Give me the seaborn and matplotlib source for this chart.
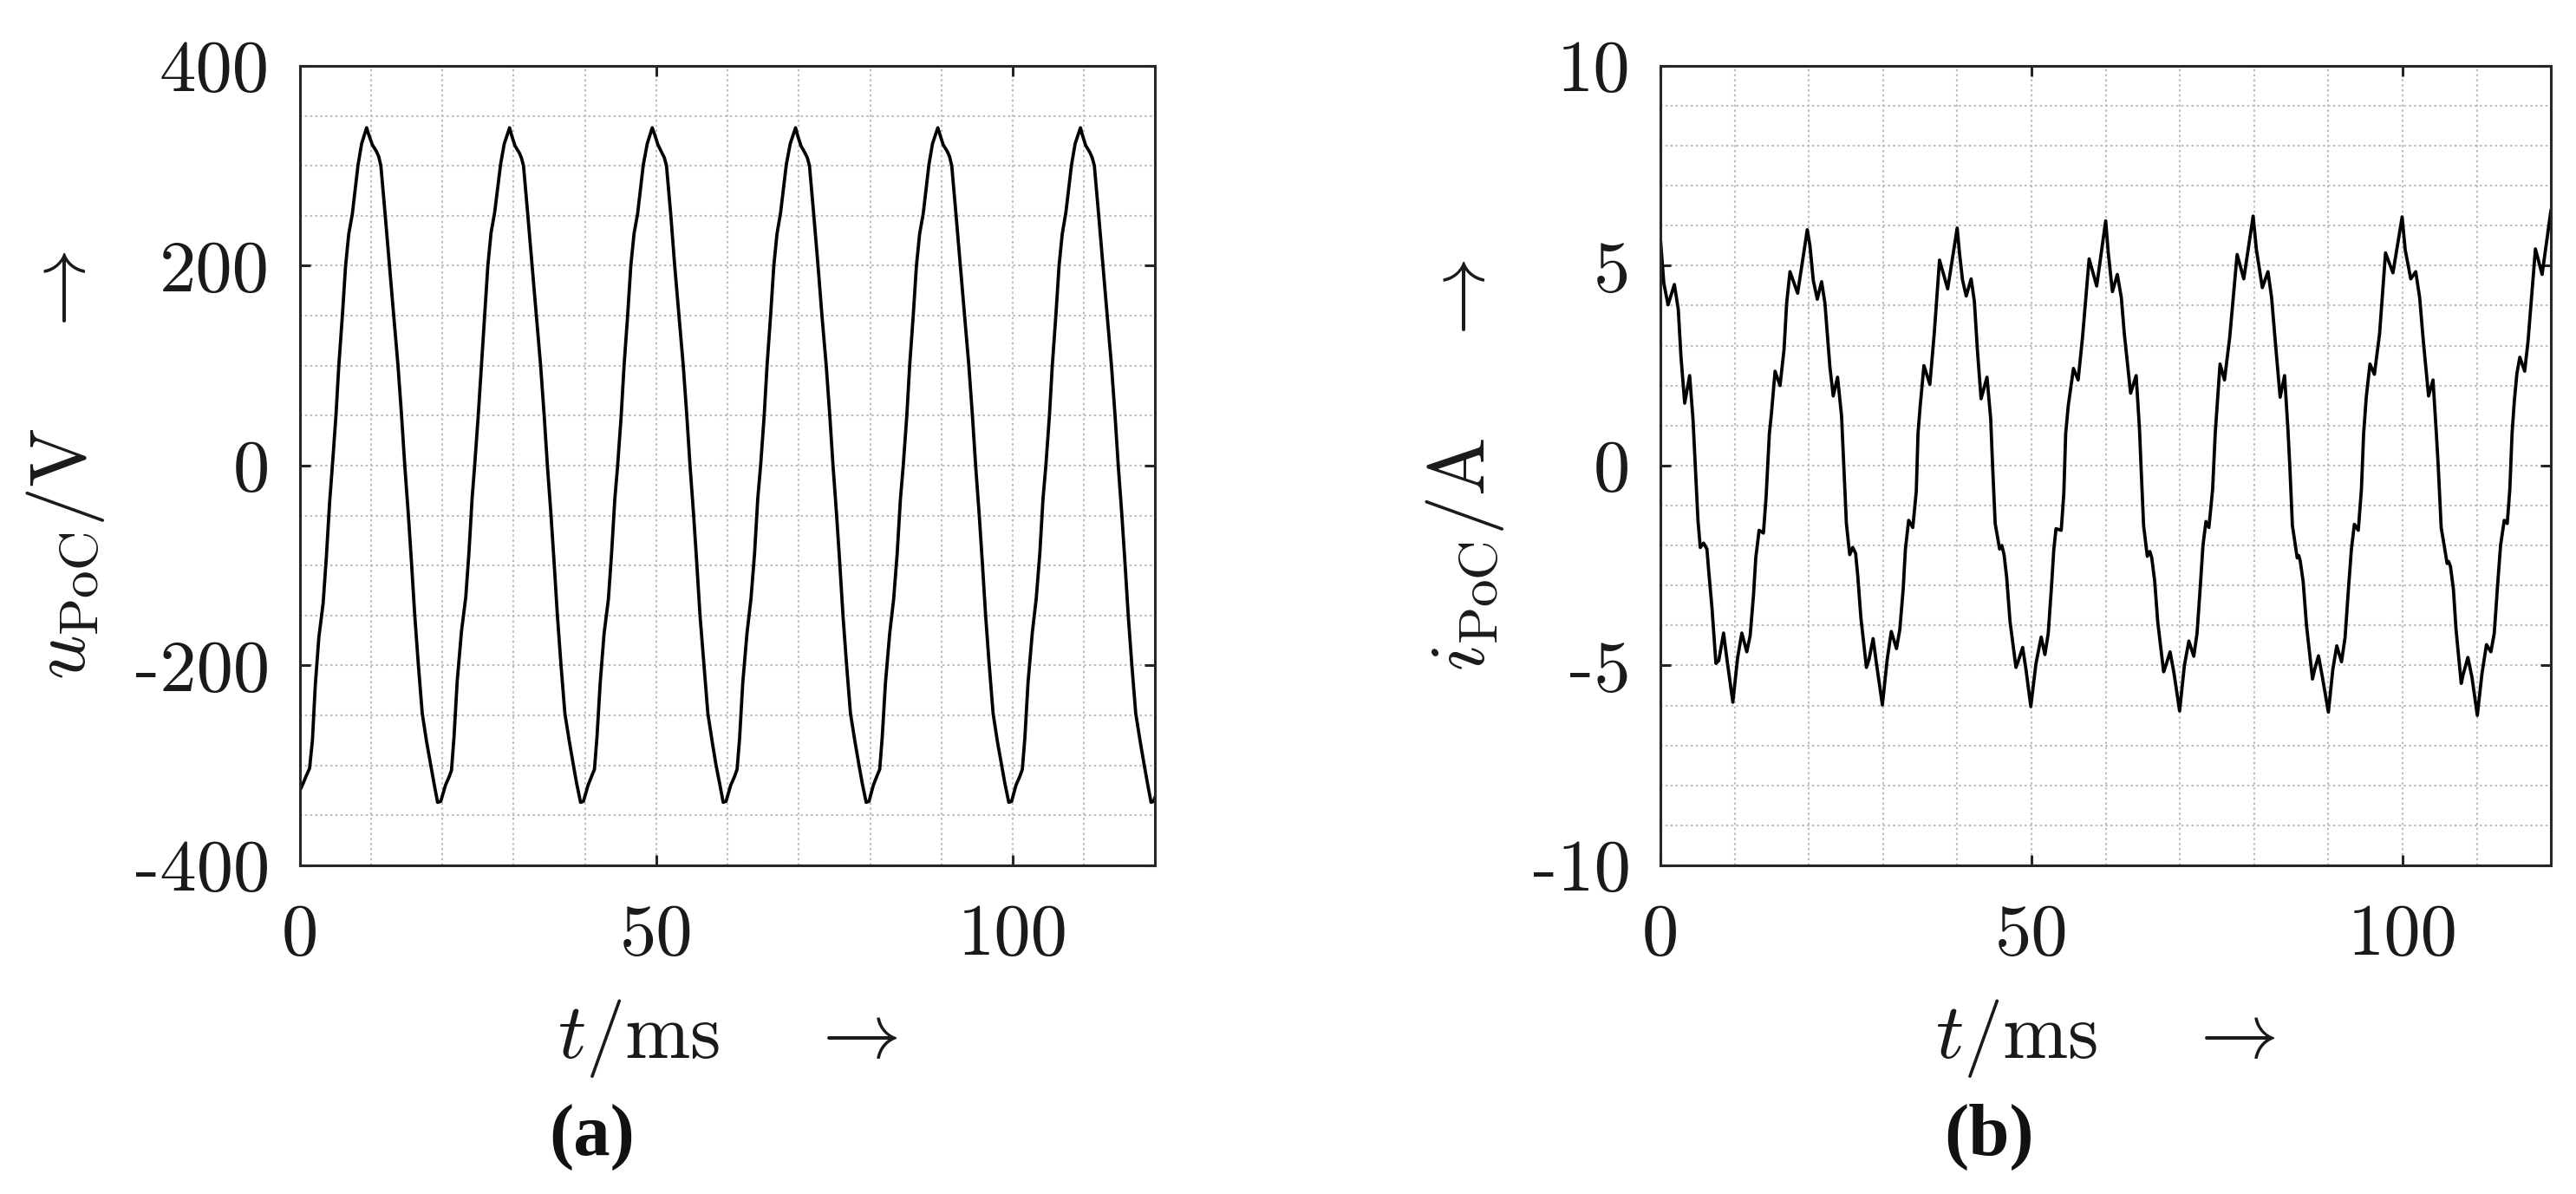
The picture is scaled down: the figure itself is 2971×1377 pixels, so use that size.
import matplotlib
matplotlib.use("Agg")
import matplotlib.pyplot as plt
import seaborn as sns
from matplotlib.ticker import MultipleLocator

# PoC voltage: time in ms, value in V
t_u = [
    0.0, 0.5, 0.9, 1.4, 1.8, 2.2, 2.7, 3.3, 3.75, 4.2, 4.6, 5.1, 5.5, 6.0, 6.45, 6.9, 7.4, 8.2, 8.7, 9.4,
    9.7, 10.2, 10.8, 11.1, 11.4, 12.0, 12.6, 13.2, 13.8, 14.3, 14.75, 15.25, 15.7, 16.15, 16.65, 17.2, 17.8, 18.4, 18.85, 19.35, 19.8,
    20.45, 21.0, 21.3, 21.65, 22.1, 22.7, 23.3, 23.75, 24.2, 24.55, 25.05, 25.5, 25.95, 26.4, 26.85, 27.35, 28.2, 28.7, 29.45,
    29.75, 30.2, 30.8, 31.1, 31.4, 32.0, 32.6, 33.2, 33.8, 34.3, 34.75, 35.25, 35.7, 36.15, 36.65, 37.2, 37.8, 38.4, 38.85, 39.4, 39.8,
    40.45, 41.0, 41.35, 41.7, 42.15, 42.7, 43.3, 43.75, 44.2, 44.6, 45.1, 45.5, 46.0, 46.45, 46.9, 47.4, 48.2, 48.75, 49.45,
    49.8, 50.25, 50.8, 51.15, 51.45, 52.05, 52.6, 53.2, 53.8, 54.3, 54.75, 55.25, 55.7, 56.15, 56.7, 57.25, 57.85, 58.4, 58.9, 59.4, 59.8,
    60.45, 61.0, 61.35, 61.7, 62.15, 62.75, 63.3, 63.8, 64.25, 64.65, 65.15, 65.55, 66.05, 66.5, 66.95, 67.45, 68.25, 68.8, 69.55,
    69.85, 70.3, 70.85, 71.2, 71.5, 72.1, 72.7, 73.25, 73.85, 74.35, 74.8, 75.3, 75.75, 76.2, 76.7, 77.25, 77.85, 78.45, 78.9, 79.45, 79.85,
    80.45, 81.0, 81.35, 81.7, 82.15, 82.75, 83.3, 83.8, 84.25, 84.65, 85.15, 85.55, 86.05, 86.5, 86.95, 87.45, 88.25, 88.75, 89.5,
    89.8, 90.25, 90.85, 91.15, 91.45, 92.05, 92.65, 93.25, 93.85, 94.35, 94.8, 95.3, 95.75, 96.2, 96.7, 97.25, 97.85, 98.45, 98.9, 99.45, 99.85,
    100.45, 101.0, 101.35, 101.7, 102.15, 102.75, 103.3, 103.8, 104.25, 104.65, 105.15, 105.55, 106.05, 106.5, 106.95, 107.45, 108.25, 108.75, 109.5,
    109.8, 110.25, 110.85, 111.15, 111.45, 112.05, 112.65, 113.25, 113.85, 114.35, 114.8, 115.3, 115.75, 116.2, 116.7, 117.25, 117.85, 118.45, 118.9, 119.4, 119.75, 120.0,
]
u_poc = [
    -326, -318, -311, -303, -275, -220, -172, -138, -92, -38, 0, 50, 100, 150, 200, 232, 252, 301, 322, 338,
    331, 321, 314, 309, 300, 251, 200, 150, 100, 50, 0, -49, -98, -150, -199, -248, -276, -300, -318, -337, -336,
    -320, -311, -305, -272, -216, -166, -132, -87, -32, 0, 50, 100, 150, 200, 233, 253, 302, 322, 338,
    330, 320, 313, 308, 300, 251, 200, 150, 100, 50, 0, -49, -98, -150, -199, -248, -275, -300, -318, -337, -336,
    -320, -310, -304, -272, -218, -168, -134, -88, -34, 0, 50, 100, 150, 200, 232, 252, 301, 322, 338,
    331, 321, 313, 308, 300, 251, 200, 150, 100, 50, 0, -49, -98, -150, -199, -248, -276, -300, -318, -337, -336,
    -320, -311, -304, -273, -217, -167, -133, -88, -33, 0, 50, 100, 150, 200, 232, 253, 301, 322, 338,
    330, 320, 313, 308, 300, 251, 200, 150, 100, 50, 0, -49, -98, -150, -199, -248, -275, -300, -318, -337, -336,
    -320, -310, -304, -272, -218, -168, -134, -88, -34, 0, 50, 100, 150, 200, 232, 252, 301, 322, 338,
    331, 321, 314, 309, 300, 251, 200, 150, 100, 50, 0, -49, -98, -150, -199, -248, -276, -300, -318, -337, -336,
    -320, -311, -304, -273, -217, -167, -133, -88, -33, 0, 50, 100, 150, 200, 232, 253, 301, 322, 338,
    330, 320, 313, 308, 300, 251, 200, 150, 100, 50, 0, -49, -98, -150, -199, -248, -275, -300, -318, -337, -336, -331,
]

# PoC current: time in ms, value in A
t_i = [
    0.0, 0.45, 1.02, 1.87, 2.4, 2.75, 3.26, 3.93, 4.38, 4.69, 5.05, 5.36, 5.81, 6.26, 6.48, 6.93, 7.47, 7.85, 8.5, 8.95, 9.75,
    10.4, 10.96, 11.63, 12.08, 12.53, 12.84, 13.29, 13.87, 14.23, 14.67, 14.95, 15.44, 16.11, 16.65, 17.0, 17.45, 18.48, 19.78,
    20.14, 20.59, 21.13, 21.71, 22.16, 22.83, 23.28, 23.86, 24.4, 24.7, 25.05, 25.5, 25.9, 26.3, 26.6, 27.0, 27.75, 28.1, 28.65, 29.1, 29.9,
    30.55, 31.1, 31.8, 32.25, 32.7, 33.0, 33.44, 34.0, 34.47, 34.7, 35.0, 35.5, 36.3, 36.9, 37.6, 38.7, 39.98,
    40.3, 40.7, 41.2, 41.86, 42.3, 42.7, 43.2, 44.0, 44.5, 44.75, 45.1, 45.7, 46.0, 46.3, 46.65, 47.1, 47.9, 48.2, 48.8, 49.25, 49.9,
    50.6, 51.3, 51.8, 52.25, 52.7, 53.0, 53.3, 54.0, 54.35, 54.6, 54.95, 55.65, 56.28, 56.86, 57.76, 58.78, 59.99,
    60.35, 60.9, 61.56, 62.1, 62.5, 63.35, 64.1, 64.55, 64.75, 65.1, 65.6, 65.95, 66.2, 66.6, 67.0, 67.8, 68.1, 68.67, 69.2, 69.95,
    70.6, 71.2, 71.86, 72.3, 72.75, 73.1, 73.5, 73.9, 74.4, 74.75, 75.05, 75.4, 76.0, 76.7, 77.7, 78.6, 79.86,
    80.3, 81.1, 81.86, 82.35, 82.8, 83.5, 84.1, 84.55, 84.8, 85.15, 85.8, 86.0, 86.2, 86.6, 87.05, 87.86, 88.15, 88.67, 89.2, 90.0,
    90.6, 91.13, 91.77, 92.25, 92.7, 93.1, 93.5, 94.03, 94.45, 94.75, 95.1, 95.6, 96.2, 96.9, 97.7, 98.7, 99.94,
    100.35, 101.1, 101.77, 102.3, 102.8, 103.5, 104.1, 104.55, 104.8, 105.2, 106.0, 106.2, 106.45, 106.85, 107.2, 107.9, 108.2, 108.8, 109.35, 110.07,
    110.7, 111.3, 111.9, 112.35, 112.8, 113.2, 113.7, 114.1, 114.45, 114.75, 115.05, 115.4, 115.8, 116.45, 116.9, 117.9, 118.8, 120.0,
]
i_poc = [
    5.65, 4.56, 4.02, 4.53, 3.9, 2.75, 1.56, 2.25, 1.16, 0.0, -1.37, -2.05, -1.94, -2.09, -2.6, -3.54, -4.95, -4.88, -4.19, -4.84, -5.92,
    -4.8, -4.19, -4.66, -4.26, -3.25, -2.31, -1.62, -1.69, -0.79, 0.8, 1.3, 2.36, 2.0, 2.9, 4.06, 4.85, 4.31, 5.9,
    5.5, 4.63, 4.16, 4.6, 4.06, 2.46, 1.74, 2.21, 1.24, 0.0, -1.45, -2.23, -2.05, -2.2, -2.8, -3.8, -5.05, -4.85, -4.33, -4.95, -5.99,
    -4.85, -4.15, -4.58, -4.1, -3.1, -2.1, -1.37, -1.55, -0.64, 0.8, 1.5, 2.5, 2.03, 3.33, 5.14, 4.42, 5.94,
    5.3, 4.64, 4.24, 4.67, 4.1, 2.9, 1.67, 2.21, 1.16, 0.0, -1.45, -2.09, -2.0, -2.23, -2.8, -3.9, -5.05, -4.9, -4.55, -5.1, -6.03,
    -4.95, -4.29, -4.73, -4.2, -3.0, -2.1, -1.58, -1.62, -0.7, 0.8, 1.5, 2.43, 2.14, 3.19, 5.17, 4.49, 6.12,
    5.3, 4.35, 4.78, 4.2, 3.3, 1.81, 2.25, 0.9, 0.0, -1.5, -2.27, -2.15, -2.31, -2.9, -3.9, -5.16, -5.0, -4.66, -5.2, -6.14,
    -5.0, -4.39, -4.77, -4.2, -3.0, -2.0, -1.4, -1.55, -0.6, 0.8, 1.6, 2.54, 2.14, 3.2, 5.28, 4.67, 6.24,
    5.4, 4.45, 4.85, 4.2, 3.2, 1.71, 2.25, 0.9, 0.0, -1.5, -2.31, -2.25, -2.38, -2.9, -4.0, -5.34, -5.1, -4.76, -5.3, -6.17,
    -5.1, -4.51, -4.91, -4.3, -3.1, -2.1, -1.47, -1.62, -0.6, 0.8, 1.7, 2.54, 2.28, 3.3, 5.32, 4.82, 6.22,
    5.4, 4.67, 4.85, 4.2, 3.1, 1.74, 2.14, 0.8, 0.0, -1.55, -2.45, -2.4, -2.52, -3.1, -4.1, -5.45, -5.2, -4.8, -5.3, -6.25,
    -5.2, -4.48, -4.66, -4.2, -3.0, -2.0, -1.37, -1.45, -0.6, 0.8, 1.6, 2.3, 2.71, 2.36, 3.1, 5.42, 4.78, 6.4,
]

x_ticks = [0, 50, 100]
u_ticks = [-400, -200, 0, 200, 400]
i_ticks = [-10, -5, 0, 5, 10]

sns.set_style("ticks")
plt.rcParams["font.family"] = "cmr10"
plt.rcParams["mathtext.fontset"] = "cm"
plt.rcParams["axes.formatter.use_mathtext"] = True
plt.rcParams["axes.unicode_minus"] = False

fig = plt.figure(figsize=(29.71, 13.77), dpi=100)
ax_u = fig.add_axes([0.1163, 0.2753, 0.3322, 0.6696])
ax_i = fig.add_axes([0.6446, 0.2753, 0.3457, 0.6696])

edge = "#262626"
grid_style = dict(color="#bdbdbd", linestyle=(0, (1.2, 1.6)), linewidth=1.5)


def style_axes(ax, yticks, yminor, ylim):
    ax.set_xlim(0, 120)
    ax.set_ylim(*ylim)
    ax.set_xticks(x_ticks)
    ax.set_xticklabels([str(v) for v in x_ticks])
    ax.set_yticks(yticks)
    ax.set_yticklabels([str(v) for v in yticks])
    ax.xaxis.set_minor_locator(MultipleLocator(10))
    ax.yaxis.set_minor_locator(MultipleLocator(yminor))
    ax.grid(which="both", **grid_style)
    ax.set_axisbelow(True)
    for s in ax.spines.values():
        s.set_color(edge)
        s.set_linewidth(2.2)
        s.set_visible(True)
    ax.tick_params(which="major", direction="in", length=8.5, width=2.2, color=edge,
                   top=True, right=True, labelsize=61, labelcolor="#1a1a1a")
    ax.tick_params(which="minor", length=0, top=True, right=True)
    ax.tick_params(axis="x", which="major", pad=32)
    ax.tick_params(axis="y", which="major", pad=25)


sns.lineplot(x=t_u, y=u_poc, ax=ax_u, color="black", linewidth=2.7, estimator=None, sort=False)
sns.lineplot(x=t_i, y=i_poc, ax=ax_i, color="black", linewidth=2.7, estimator=None, sort=False)

style_axes(ax_u, u_ticks, 50, (-400, 400))
style_axes(ax_i, i_ticks, 1, (-10, 10))

label_kw = dict(fontsize=65, color="#1a1a1a")
ax_u.set_xlabel(r"$t/\mathrm{ms}\quad\;\rightarrow$", **label_kw)
ax_i.set_xlabel(r"$t/\mathrm{ms}\quad\;\rightarrow$", **label_kw)
ax_u.set_ylabel(r"$u_{\mathrm{PoC}}/\mathrm{V}\quad\;\rightarrow$", **label_kw)
ax_i.set_ylabel(r"$i_{\mathrm{PoC}}/\mathrm{A}\quad\;\rightarrow$", **label_kw)
ax_u.xaxis.set_label_coords(0.5, -0.165)
ax_i.xaxis.set_label_coords(0.5, -0.165)
ax_u.yaxis.set_label_coords(-0.225, 0.5)
ax_i.yaxis.set_label_coords(-0.173, 0.5)

# panel letters under each subplot
fig.text(0.2298, 0.0479, "(a)", ha="center", va="center", fontsize=61,
         fontweight="bold", family="Liberation Serif", color="#111111")
fig.text(0.7722, 0.0479, "(b)", ha="center", va="center", fontsize=61,
         fontweight="bold", family="Liberation Serif", color="#111111")

fig.savefig("out.png", dpi=100, facecolor="white")
